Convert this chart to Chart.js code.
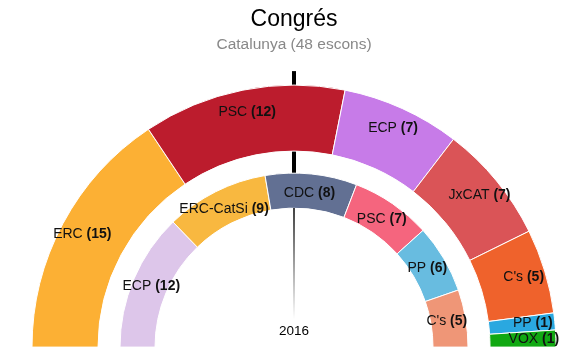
<!DOCTYPE html>
<html>
<head>
<meta charset="utf-8">
<script src="https://cdn.jsdelivr.net/npm/chart.js@4"></script>
<style>
  html, body { margin: 0; padding: 0; background: #fff; }
  #wrap { width: 580px; height: 358px; position: relative; }
</style>
</head>
<body>
<div id="wrap"><canvas id="c" width="580" height="358"></canvas></div>
<script>
// ---- Data ----
const chartTitle = 'Congrés';
const chartSubtitle = 'Catalunya (48 escons)';
const outerLabels = ['ERC', 'PSC', 'ECP', 'JxCAT', "C's", 'PP', 'VOX'];
const outerSeats  = [15, 12, 7, 7, 5, 1, 1];
const outerColors = ['#FCB034', '#BC1C2D', '#C77BE8', '#DA5457', '#EF622C', '#2AA8E0', '#11A812'];
const innerLabels = ['ECP', 'ERC-CatSi', 'CDC', 'PSC', 'PP', "C's"];
const innerSeats  = [12, 9, 8, 7, 6, 5];
const innerColors = ['#DDC6EA', '#F8B840', '#627093', '#F5657E', '#68BCE0', '#EF9677'];
const innerYearLabel = '2016';

const FONT = '"Liberation Sans", Arial, Helvetica, sans-serif';

const labelPlugin = {
  id: 'arcLabels',
  beforeDatasetsDraw(chart) {
    // majority marker lines
    const arc = chart.getDatasetMeta(0).data[0];
    const inner = chart.getDatasetMeta(2).data[0];
    if (!arc || !inner) return;
    const ctx = chart.ctx;
    const cx = arc.x, cy = arc.y;
    ctx.save();
    ctx.strokeStyle = '#000';
    ctx.lineWidth = 4;
    ctx.beginPath();
    ctx.moveTo(cx, cy - arc.outerRadius - 14);
    ctx.lineTo(cx, cy - inner.outerRadius + 2);
    ctx.stroke();
    ctx.restore();
  },
  afterDatasetsDraw(chart) {
    const ctx = chart.ctx;
    const outerArc = chart.getDatasetMeta(0).data[0];
    const innerArc = chart.getDatasetMeta(2).data[0];
    const cx = outerArc.x, cy = outerArc.y;
    // thin fading line from inner ring down to year label
    ctx.save();
    const y0 = cy - innerArc.innerRadius, y1 = cy - 28;
    const g = ctx.createLinearGradient(0, y0, 0, y1);
    g.addColorStop(0, 'rgba(0,0,0,1)');
    g.addColorStop(1, 'rgba(0,0,0,0)');
    ctx.strokeStyle = g;
    ctx.lineWidth = 1.5;
    ctx.beginPath();
    ctx.moveTo(cx, y0);
    ctx.lineTo(cx, y1);
    ctx.stroke();
    ctx.fillStyle = '#000';
    ctx.font = '13.5px ' + FONT;
    ctx.textAlign = 'center';
    ctx.textBaseline = 'middle';
    ctx.fillText(innerYearLabel, cx, cy - 16);
    ctx.restore();

    const sets = [
      { meta: chart.getDatasetMeta(0), labels: outerLabels, seats: outerSeats },
      { meta: chart.getDatasetMeta(2), labels: innerLabels, seats: innerSeats }
    ];
    sets.forEach((s, si) => {
      s.meta.data.forEach((el, i) => {
        const mid = (el.startAngle + el.endAngle) / 2;
        const r = si === 0 ? el.outerRadius - 22 : (el.outerRadius + el.innerRadius) / 2 - 1.5;
        const x = el.x + Math.cos(mid) * r;
        const y = el.y + Math.sin(mid) * r;
        const a = s.labels[i] + ' ';
        const b = '(' + s.seats[i] + ')';
        ctx.save();
        ctx.textBaseline = 'middle';
        ctx.textAlign = 'left';
        ctx.font = '14px ' + FONT;
        const wa = ctx.measureText(a).width;
        ctx.font = 'bold 14px ' + FONT;
        const wb = ctx.measureText(b).width;
        const x0 = x - (wa + wb) / 2;
        ctx.fillStyle = '#111';
        ctx.font = '14px ' + FONT;
        ctx.fillText(a, x0, y);
        ctx.font = 'bold 14px ' + FONT;
        ctx.fillText(b, x0 + wa, y);
        ctx.restore();
      });
    });
  }
};

new Chart(document.getElementById('c'), {
  type: 'doughnut',
  data: {
    labels: outerLabels,
    datasets: [
      { data: outerSeats, backgroundColor: outerColors, borderColor: '#fff', borderWidth: 1, weight: 66 },
      { data: [1], backgroundColor: 'rgba(0,0,0,0)', borderWidth: 0, weight: 22 },
      { data: innerSeats, backgroundColor: innerColors, borderColor: '#fff', borderWidth: 1, weight: 35 }
    ]
  },
  options: {
    responsive: false,
    animation: false,
    rotation: -90,
    circumference: 180,
    radius: 262,
    cutout: (139 / 262 * 100) + '%',
    layout: { padding: { left: 32, right: 24, top: 0, bottom: 11 } },
    events: [],
    plugins: {
      legend: { display: false },
      tooltip: { enabled: false },
      title: {
        display: true, text: chartTitle, color: '#000',
        font: { family: FONT, size: 23, weight: 'normal' },
        padding: { top: 6, bottom: 0 }
      },
      subtitle: {
        display: true, text: chartSubtitle, color: '#888',
        font: { family: FONT, size: 15.5, weight: 'normal' },
        padding: { top: 2, bottom: 31 }
      }
    }
  },
  plugins: [labelPlugin]
});
</script>
</body>
</html>
